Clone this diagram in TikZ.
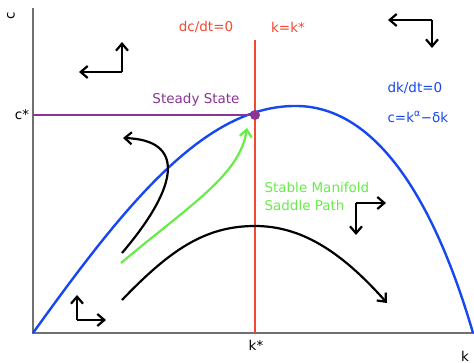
\documentclass[tikz,border=0pt]{standalone}
\usepackage{fontspec}
\setmainfont{DejaVu Sans}
\usetikzlibrary{arrows.meta,positioning}
\definecolor{nullred}{RGB}{242,72,48}
\definecolor{nullblue}{RGB}{22,72,240}
\definecolor{steady}{RGB}{138,52,150}
\definecolor{manifold}{RGB}{104,236,72}
\definecolor{axisgray}{RGB}{112,112,112}

\begin{document}
\begin{tikzpicture}[x=1pt,y=-1pt,font=\fontsize{13.5}{18}\selectfont,
  ax/.style={draw=axisgray,line width=1.4pt},
  tip/.style={-{Straight Barb[length=7pt,width=12pt]}},
  traj/.style={tip,line width=2.2pt},
  dir/.style={tip,line width=2.2pt}]
  \useasboundingbox (0,0) rectangle (474,363);
  % axes
  \coordinate (O) at (33,333);
  \coordinate (ctop) at (33,8);
  \coordinate (kend) at (474,333);
  \draw[ax] (ctop) -- (O) -- (kend);
  \node[rotate=90] (clab) at (11,16) {c};
  \node (kl) at (465,356) {k};
  % nullclines
  \coordinate (ss) at (255,115);
  \coordinate (redtop) at (255,40);
  \coordinate (redbot) at (255,333);
  \draw[nullred,line width=2.2pt] (redtop) -- (redbot);
  \draw[nullblue,line width=2.4pt] (O) .. controls (125,205) and (205,104) .. (298,106)
    .. controls (385,108) and (440,220) .. (473,333);
  \draw[steady,line width=2.2pt] (O |- ss) -- (ss);
  \fill[steady] (ss) circle (5pt);
  \node (cs) at (22,115) {c*};
  \node (ks) at (256,345) {k*};
  \node[text=nullred] (dc) at (206,27) {dc/dt=0};
  \node[text=nullred] (kk) at (288,27) {k=k*};
  \node[text=steady] (st) at (196,100) {Steady State};
  \node[text=nullblue,anchor=west] (dk) at (384,88) {dk/dt=0};
  \node[text=nullblue,anchor=west] (cf) at (384,117) {c=k\textsuperscript{α}−δk};
  \node[text=manifold,anchor=west,align=left] (sm) at (261,196) {Stable Manifold\\Saddle Path};
  % trajectories
  \draw[traj] (122,253) .. controls (180,185) and (185,140) .. (123,138);
  \draw[traj,manifold] (121,263) .. controls (190,205) and (240,175) .. (247,128);
  \draw[traj] (122,300) .. controls (170,250) and (205,226) .. (255,226)
    .. controls (300,226) and (340,250) .. (387,303);
  % direction arrows
  \coordinate (q1) at (122,72);
  \coordinate (q1u) at (122,42);
  \coordinate (q1l) at (79,72);
  \draw[dir] (q1) -- (q1u);
  \draw[dir] (q1) -- (q1l);
  \coordinate (q2) at (432,20);
  \coordinate (q2l) at (388,20);
  \coordinate (q2d) at (432,48);
  \draw[dir] (q2) -- (q2l);
  \draw[dir] (q2) -- (q2d);
  \coordinate (q3) at (356,203);
  \coordinate (q3r) at (386,203);
  \coordinate (q3d) at (356,235);
  \draw[dir] (q3) -- (q3r);
  \draw[dir] (q3) -- (q3d);
  \coordinate (q4) at (77,320);
  \coordinate (q4u) at (77,295);
  \coordinate (q4r) at (106,320);
  \draw[dir] (q4) -- (q4u);
  \draw[dir] (q4) -- (q4r);
\end{tikzpicture}
\end{document}
